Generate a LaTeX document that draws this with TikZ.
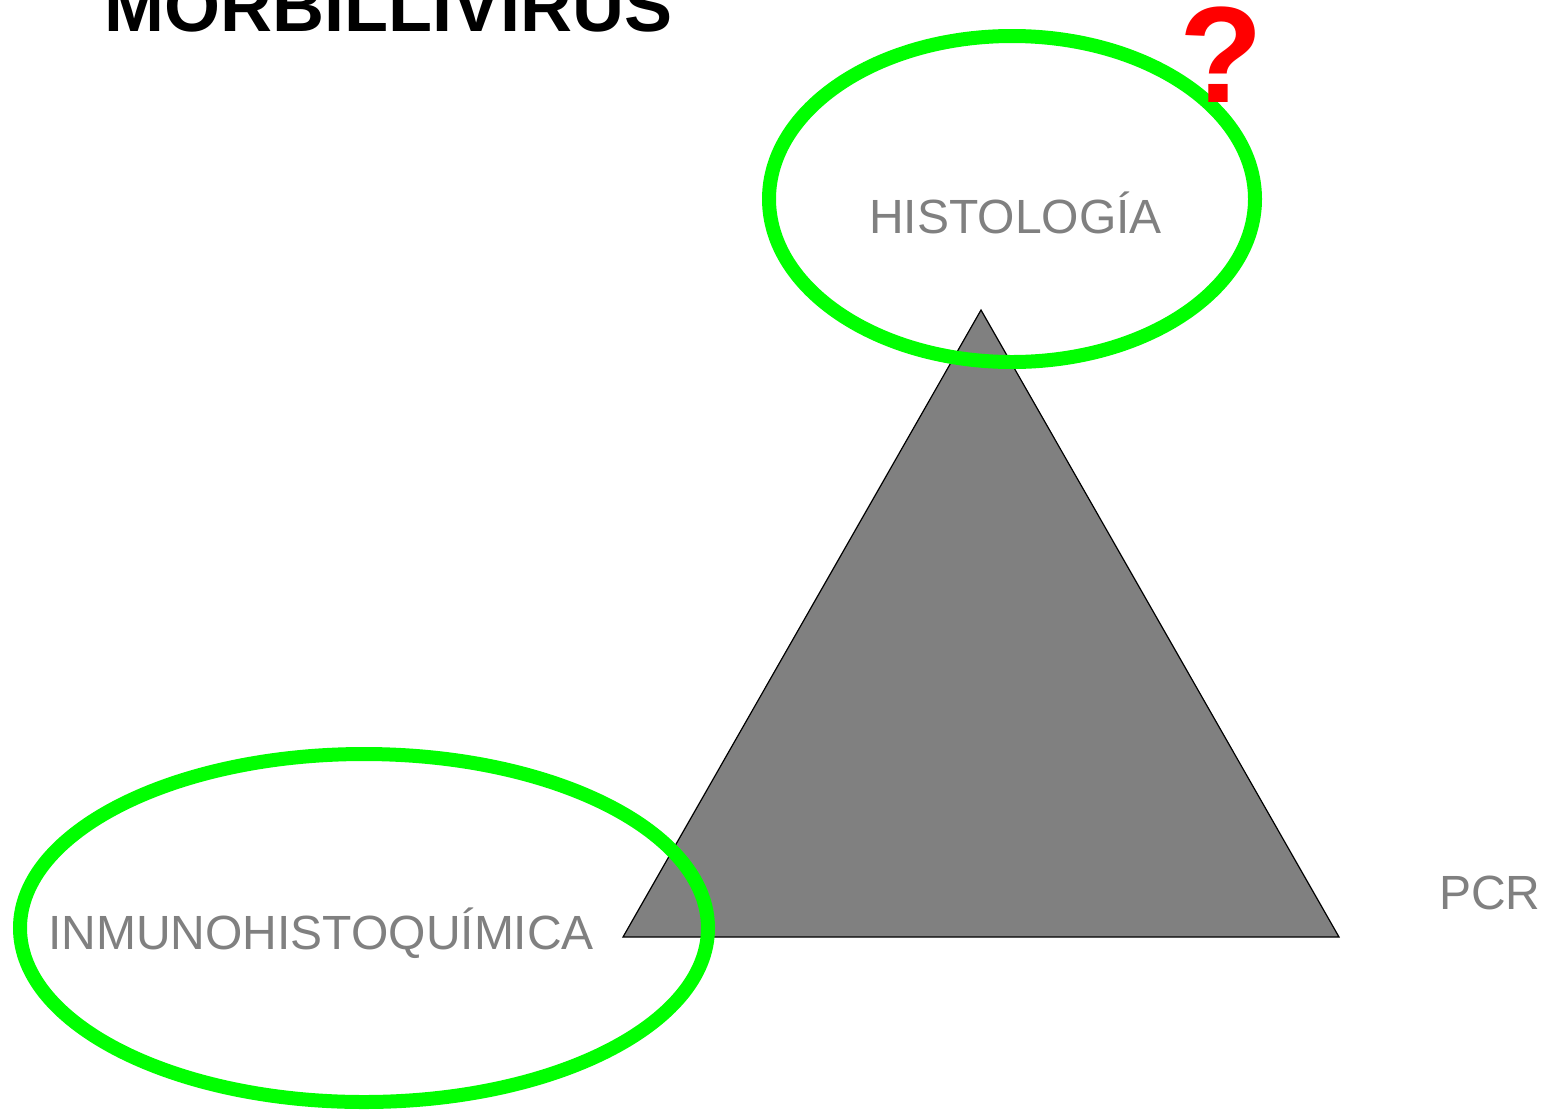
\documentclass[tikz,border=0pt]{standalone}
\usepackage{fontspec}
\setmainfont{Liberation Sans}
\definecolor{ringgreen}{RGB}{0,255,0}
\definecolor{labelgray}{RGB}{128,128,128}
\definecolor{qred}{RGB}{255,0,0}
\begin{document}
\begin{tikzpicture}[x=1pt,y=-1pt,
  ring/.style={draw=ringgreen,line width=14pt},
  lbl/.style={text=labelgray,inner sep=0pt,anchor=base west,font=\fontsize{48}{58}\selectfont},
  tri/.style={fill=labelgray,draw=black,line width=1.2pt,line join=miter}]
\useasboundingbox (0,0) rectangle (1549,1109);
\clip (0,0) rectangle (1549,1109);
\fill[white] (0,0) rectangle (1549,1109);
% triangle
\coordinate (apex) at (981,310);
\coordinate (bl) at (623,937);
\coordinate (br) at (1339,937);
\draw[tri] (apex) -- (bl) -- (br) -- cycle;
% rings
\draw[ring] (1012,199) ellipse [x radius=243pt, y radius=163pt];
\draw[ring] (364,928) ellipse [x radius=344pt, y radius=174pt];
% labels
\node[inner sep=0pt,anchor=base west,font=\bfseries\fontsize{72}{86}\selectfont] (title) at (104,31) {MORBILLIVIRUS};
\node[lbl] (histo) at (869,233) {HISTOLOGÍA};
\node[lbl] (inmuno) at (48,949) {INMUNOHISTOQUÍMICA};
\node[lbl] (pcr) at (1439,909) {PCR};
\node[inner sep=0pt,anchor=base,text=qred,font=\bfseries\fontsize{137}{160}\selectfont] (q) at (1221,102) {?};
\end{tikzpicture}
\end{document}
